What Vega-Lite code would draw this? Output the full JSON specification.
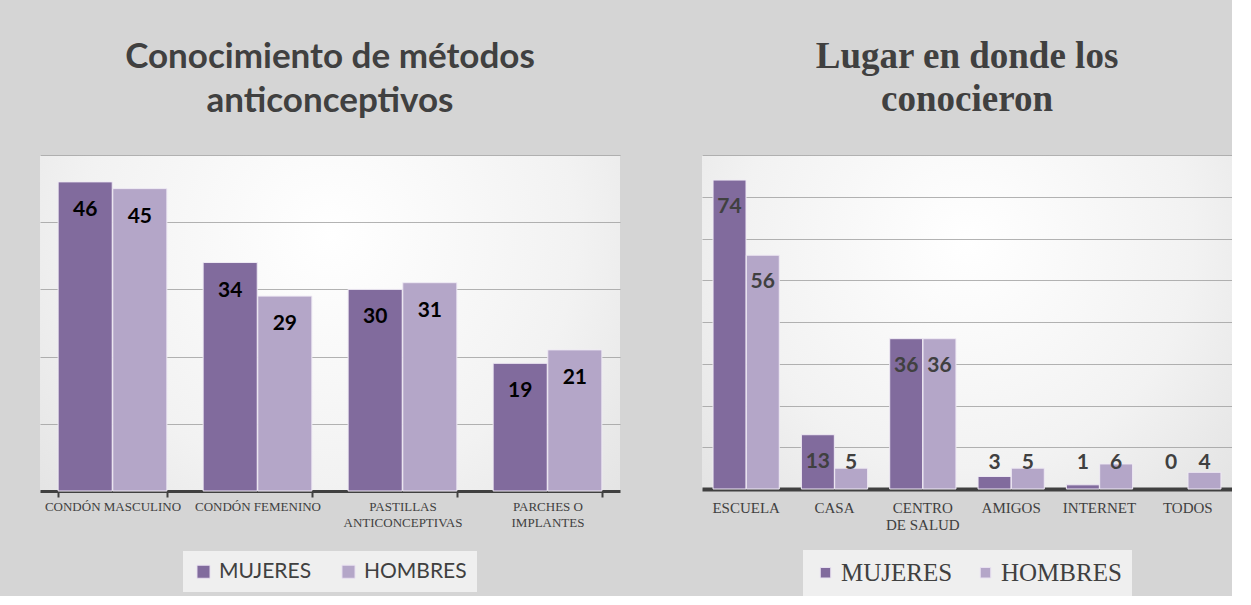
{
  "$schema": "https://vega.github.io/schema/vega-lite/v6.json",
  "background": "#d5d5d5",
  "padding": {"left": 40, "top": 38, "right": 0, "bottom": 0},
  "spacing": 82,
  "config": {
    "view": {
      "stroke": null,
      "fill": {"gradient": "radial", "x1": 0.5, "y1": 0.35, "r1": 0, "x2": 0.5, "y2": 0.35, "r2": 0.85,
        "stops": [{"offset": 0, "color": "#ffffff"}, {"offset": 0.5, "color": "#f2f2f2"}, {"offset": 1, "color": "#dadada"}]}
    },
    "legend": {"layout": {"bottom": {"anchor": "middle"}}}
  },
  "resolve": {"scale": {"color": "independent", "xOffset": "independent", "x": "independent", "y": "independent"}, "legend": {"color": "independent"}},
  "hconcat": [
    {
      "width": 580,
      "height": 336,
      "title": {"text": ["Conocimiento de métodos", "anticonceptivos"], "font": "Lato", "fontSize": 35, "fontWeight": "bold", "color": "#404040", "lineHeight": 44, "offset": 36, "anchor": "middle", "frame": "group"},
      "data": {"values": [
        {"metodo": "CONDÓN MASCULINO", "sexo": "MUJERES", "valor": 46},
        {"metodo": "CONDÓN MASCULINO", "sexo": "HOMBRES", "valor": 45},
        {"metodo": "CONDÓN FEMENINO", "sexo": "MUJERES", "valor": 34},
        {"metodo": "CONDÓN FEMENINO", "sexo": "HOMBRES", "valor": 29},
        {"metodo": "PASTILLAS\nANTICONCEPTIVAS", "sexo": "MUJERES", "valor": 30},
        {"metodo": "PASTILLAS\nANTICONCEPTIVAS", "sexo": "HOMBRES", "valor": 31},
        {"metodo": "PARCHES O\nIMPLANTES", "sexo": "MUJERES", "valor": 19},
        {"metodo": "PARCHES O\nIMPLANTES", "sexo": "HOMBRES", "valor": 21}
      ]},
      "encoding": {
        "x": {"field": "metodo", "type": "nominal", "sort": null,
          "scale": {"paddingInner": 0.25, "paddingOuter": 0.125},
          "axis": {"title": null, "labelAngle": 0, "labelFont": "Liberation Serif", "labelFontSize": 13, "labelColor": "#404040",
            "labelExpr": "split(datum.label, '\\n')", "labelLineHeight": 16, "labelLimit": 0,
            "domainColor": "#404040", "domainWidth": 3, "tickBand": "extent", "ticks": true, "tickColor": "#404040",
            "tickWidth": 2, "tickSize": 6, "labelPadding": 3, "grid": false}},
        "xOffset": {"field": "sexo", "type": "nominal", "sort": ["MUJERES", "HOMBRES"], "scale": {"paddingInner": 0.01}},
        "y": {"field": "valor", "type": "quantitative", "scale": {"domain": [0, 50]},
          "axis": {"title": null, "labels": false, "ticks": false, "domain": false, "grid": true, "gridColor": "#999999", "gridOpacity": 0.75, "values": [10, 20, 30, 40, 50]}}
      },
      "layer": [
        {"mark": {"type": "bar", "stroke": "#efeaf4", "strokeWidth": 1, "opacity": 1},
          "encoding": {"color": {"field": "sexo", "type": "nominal", "sort": ["MUJERES", "HOMBRES"],
            "scale": {"domain": ["MUJERES", "HOMBRES"], "range": ["#816b9d", "#b4a6c8"]},
            "legend": {"title": null, "orient": "bottom", "direction": "horizontal", "labelFont": "Lato", "labelFontSize": 21,
              "labelColor": "#404040", "symbolType": "square", "symbolSize": 170, "symbolStrokeColor": "#e8e0f0", "symbolStrokeWidth": 1,
              "symbolOpacity": 1, "fillColor": "#efefef", "padding": 10, "columnPadding": 26, "offset": 22, "labelOffset": 5}}}},
        {"mark": {"type": "text", "dy": 28, "font": "Lato", "fontWeight": "bold", "fontSize": 21, "color": "#000000", "baseline": "middle"},
          "encoding": {"text": {"field": "valor", "type": "quantitative"}}}
      ]
    },
    {
      "width": 530,
      "height": 334,
      "title": {"text": ["Lugar en donde los", "conocieron"], "font": "Liberation Serif", "fontSize": 37, "fontWeight": "bold", "color": "#404040", "lineHeight": 43, "offset": 36, "anchor": "middle", "frame": "group"},
      "data": {"values": [
        {"lugar": "ESCUELA", "sexo": "MUJERES", "valor": 74},
        {"lugar": "ESCUELA", "sexo": "HOMBRES", "valor": 56},
        {"lugar": "CASA", "sexo": "MUJERES", "valor": 13},
        {"lugar": "CASA", "sexo": "HOMBRES", "valor": 5},
        {"lugar": "CENTRO\nDE SALUD", "sexo": "MUJERES", "valor": 36},
        {"lugar": "CENTRO\nDE SALUD", "sexo": "HOMBRES", "valor": 36},
        {"lugar": "AMIGOS", "sexo": "MUJERES", "valor": 3},
        {"lugar": "AMIGOS", "sexo": "HOMBRES", "valor": 5},
        {"lugar": "INTERNET", "sexo": "MUJERES", "valor": 1},
        {"lugar": "INTERNET", "sexo": "HOMBRES", "valor": 6},
        {"lugar": "TODOS", "sexo": "MUJERES", "valor": 0},
        {"lugar": "TODOS", "sexo": "HOMBRES", "valor": 4}
      ]},
      "encoding": {
        "x": {"field": "lugar", "type": "nominal", "sort": null,
          "scale": {"paddingInner": 0.25, "paddingOuter": 0.125},
          "axis": {"title": null, "labelAngle": 0, "labelFont": "Liberation Serif", "labelFontSize": 15, "labelColor": "#404040",
            "labelExpr": "split(datum.label, '\\n')", "labelLineHeight": 17, "labelLimit": 0,
            "domainColor": "#404040", "domainWidth": 4, "ticks": false, "tickSize": 0, "labelPadding": 11, "grid": false}},
        "xOffset": {"field": "sexo", "type": "nominal", "sort": ["MUJERES", "HOMBRES"], "scale": {"paddingInner": 0.01}},
        "y": {"field": "valor", "type": "quantitative", "scale": {"domain": [0, 80]},
          "axis": {"title": null, "labels": false, "ticks": false, "domain": false, "grid": true, "gridColor": "#999999", "gridOpacity": 0.75, "values": [10, 20, 30, 40, 50, 60, 70, 80]}}
      },
      "layer": [
        {"mark": {"type": "bar", "stroke": "#efeaf4", "strokeWidth": 1, "opacity": 1},
          "encoding": {
            "strokeOpacity": {"condition": {"test": "datum.valor == 0", "value": 0}, "value": 1},
            "color": {"field": "sexo", "type": "nominal", "sort": ["MUJERES", "HOMBRES"],
            "scale": {"domain": ["MUJERES", "HOMBRES"], "range": ["#816b9d", "#b4a6c8"]},
            "legend": {"title": null, "orient": "bottom", "direction": "horizontal", "labelFont": "Liberation Serif", "labelFontSize": 25,
              "labelColor": "#404040", "symbolType": "square", "symbolSize": 110, "symbolStrokeColor": "#e8e0f0", "symbolStrokeWidth": 1,
              "symbolOpacity": 1, "fillColor": "#efefef", "padding": 10, "columnPadding": 20, "offset": 18, "labelOffset": 3}}}},
        {"transform": [{"filter": "datum.valor >= 13"}],
          "mark": {"type": "text", "dy": 27, "font": "Lato", "fontWeight": "bold", "fontSize": 21, "color": "#404040", "baseline": "middle"},
          "encoding": {"text": {"field": "valor", "type": "quantitative"}}},
        {"transform": [{"filter": "datum.valor < 13"}],
          "mark": {"type": "text", "dy": -26, "font": "Lato", "fontWeight": "bold", "fontSize": 21, "color": "#404040", "baseline": "middle"},
          "encoding": {"y": {"datum": 0, "type": "quantitative"}, "text": {"field": "valor", "type": "quantitative"}}}
      ]
    }
  ]
}
